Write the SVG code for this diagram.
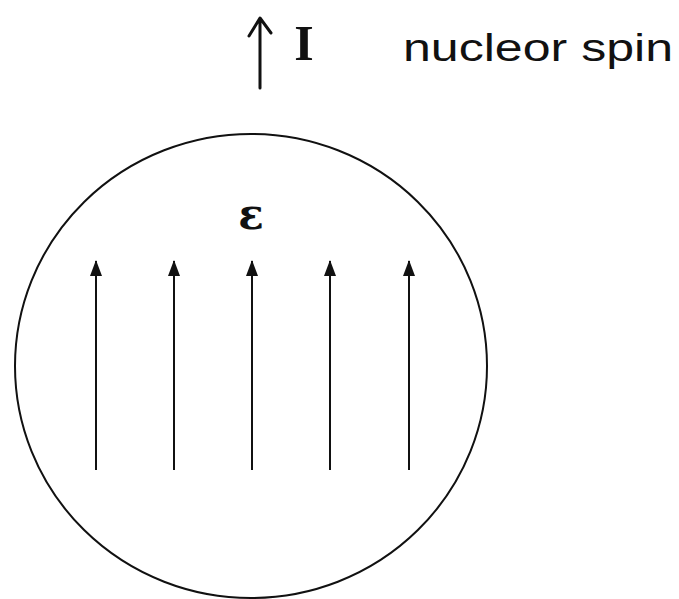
<svg xmlns="http://www.w3.org/2000/svg" width="679" height="599" viewBox="0 0 679 599">
<defs>
<marker id="ah" viewBox="0 0 16 12" refX="15" refY="6" markerWidth="16" markerHeight="12" markerUnits="userSpaceOnUse" orient="auto">
<path d="M0,0 L16,6 L0,12 Z" fill="#111"/>
</marker>
<style>
.fl{stroke:#111;stroke-width:2;fill:none}
.hand{font-family:"Liberation Sans","DejaVu Sans",sans-serif;fill:#111}
</style>
</defs>
<rect width="679" height="599" fill="#fff"/>
<g id="spin-label">
<path d="M260,88 L260,19 M249,36 L260,18 L271,33" stroke="#111" stroke-width="3" fill="none" stroke-linecap="round" stroke-linejoin="round"/>
<text x="304" y="60" style="font-family:'Liberation Serif',serif;font-weight:bold;font-size:50px;fill:#111" text-anchor="middle">I</text>
<text x="403" y="61" class="hand" font-size="38" textLength="270" lengthAdjust="spacingAndGlyphs">nucleor spin</text>
</g>
<g id="nucleus">
<ellipse cx="251" cy="366" rx="236" ry="232" fill="none" stroke="#111" stroke-width="2"/>
<text x="251" y="229" style="font-family:'DejaVu Serif',serif;font-weight:bold;font-size:42px;fill:#111" text-anchor="middle">ε</text>
</g>
<g id="connectors">
<line class="fl" x1="96" y1="470" x2="96" y2="261" marker-end="url(#ah)"/>
<line class="fl" x1="174" y1="470" x2="174" y2="261" marker-end="url(#ah)"/>
<line class="fl" x1="252" y1="470" x2="252" y2="261" marker-end="url(#ah)"/>
<line class="fl" x1="330" y1="470" x2="330" y2="261" marker-end="url(#ah)"/>
<line class="fl" x1="409" y1="470" x2="409" y2="261" marker-end="url(#ah)"/>
</g>
</svg>
